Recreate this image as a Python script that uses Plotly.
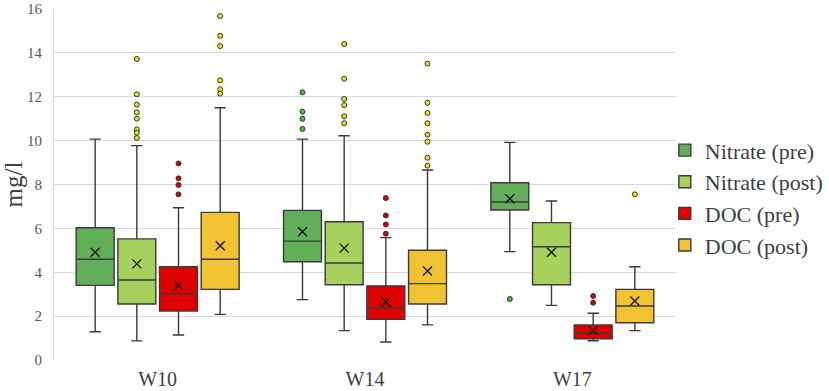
import plotly.graph_objects as go

categories = ["W10", "W14", "W17"]
series = ["Nitrate (pre)", "Nitrate (post)", "DOC (pre)", "DOC (post)"]

# statistics per series, one value per category (W10, W14, W17)
lowerfence = {
    "Nitrate (pre)": [1.29, 2.75, 4.94],
    "Nitrate (post)": [0.87, 1.34, 2.49],
    "DOC (pre)": [1.14, 0.82, 0.88],
    "DOC (post)": [2.08, 1.60, 1.34],
}
q1 = {
    "Nitrate (pre)": [3.40, 4.48, 6.84],
    "Nitrate (post)": [2.55, 3.43, 3.43],
    "DOC (pre)": [2.23, 1.85, 0.97],
    "DOC (post)": [3.22, 2.55, 1.70],
}
median = {
    "Nitrate (pre)": [4.59, 5.42, 7.20],
    "Nitrate (post)": [3.65, 4.42, 5.16],
    "DOC (pre)": [3.01, 2.38, 1.22],
    "DOC (post)": [4.59, 3.48, 2.46],
}
q3 = {
    "Nitrate (pre)": [6.03, 6.82, 8.08],
    "Nitrate (post)": [5.52, 6.30, 6.26],
    "DOC (pre)": [4.25, 3.37, 1.60],
    "DOC (post)": [6.73, 5.00, 3.22],
}
upperfence = {
    "Nitrate (pre)": [10.07, 10.07, 9.92],
    "Nitrate (post)": [9.77, 10.22, 7.25],
    "DOC (pre)": [6.94, 5.58, 2.13],
    "DOC (post)": [11.50, 8.66, 4.25],
}
mean = {
    "Nitrate (pre)": [4.91, 5.85, 7.35],
    "Nitrate (post)": [4.38, 5.10, 4.91],
    "DOC (pre)": [3.39, 2.64, 1.34],
    "DOC (post)": [5.21, 4.06, 2.69],
}
outliers = {
    "Nitrate (pre)": [[], [12.20, 11.32, 11.00, 10.53], [2.78]],
    "Nitrate (post)": [[13.72, 12.11, 11.64, 11.29, 11.00, 10.51, 10.36, 10.12],
                       [14.40, 12.82, 11.90, 11.62, 11.11, 10.79], []],
    "DOC (pre)": [[8.96, 8.28, 7.98, 7.55], [7.38, 6.59, 6.18, 5.76], [2.92, 2.61]],
    "DOC (post)": [[15.68, 14.78, 14.31, 12.75, 12.34, 12.14],
                   [13.51, 11.73, 11.26, 10.79, 10.27, 9.95, 9.22, 8.86], [7.55]],
}

box_colors = ["#63AF59", "#A6D15E", "#DF0000", "#F1C232"]
outlier_colors = ["#2ECC2E", "#CCEE22", "#DD0000", "#FFDD00"]

step = 0.201
box_w = 0.183
offsets = [-1.5 * step, -0.5 * step, 0.5 * step, 1.5 * step]

fig = go.Figure()
for s_i, name in enumerate(series):
    xs = [c_i + offsets[s_i] for c_i in range(len(categories))]
    fig.add_trace(go.Box(
        name=name,
        x=xs,
        q1=q1[name], median=median[name], q3=q3[name],
        lowerfence=lowerfence[name], upperfence=upperfence[name],
        width=box_w, whiskerwidth=0.3,
        fillcolor=box_colors[s_i],
        line=dict(color="#3A3A3A", width=1.4),
        boxpoints=False,
        hoverinfo="skip",
        showlegend=True,
    ))
    # means as x markers
    fig.add_trace(go.Scatter(
        x=xs, y=mean[name], mode="markers",
        marker=dict(symbol="x-thin-open", size=9, color="#111111",
                    line=dict(color="#111111", width=1.3)),
        showlegend=False, hoverinfo="skip",
    ))
    ox, oy = [], []
    for c_i, vals in enumerate(outliers[name]):
        for v in vals:
            ox.append(c_i + offsets[s_i])
            oy.append(v)
    fig.add_trace(go.Scatter(
        x=ox, y=oy, mode="markers",
        marker=dict(symbol="circle", size=5, color=outlier_colors[s_i],
                    line=dict(color="#333333", width=1)),
        showlegend=False, hoverinfo="skip",
    ))

font_family = "Liberation Serif, serif"
fig.update_layout(
    width=829, height=391,
    margin=dict(l=54, r=153, t=9, b=31, autoexpand=False),
    paper_bgcolor="white", plot_bgcolor="white",
    font=dict(family=font_family, color="#404040"),
    showlegend=True,
    legend=dict(
        x=0.982, xanchor="left", y=0.462, yanchor="middle",
        bgcolor="rgba(0,0,0,0)",
        font=dict(family=font_family, size=22, color="#404040"),
        itemwidth=30, tracegroupgap=0,
    ),
    xaxis=dict(
        range=[-0.5, 2.5], automargin=False,
        tickvals=list(range(len(categories))), ticktext=categories,
        showgrid=False, zeroline=False, showline=False,
        ticks="", ticklabelstandoff=5,
        tickfont=dict(family=font_family, size=20, color="#404040"),
        fixedrange=True,
    ),
    yaxis=dict(
        range=[0, 16], dtick=2, automargin=False,
        showgrid=True, gridcolor="#D9D9D9", gridwidth=1,
        zeroline=False, showline=True, linecolor="#D9D9D9", linewidth=1,
        ticks="", ticklabelstandoff=8,
        tickfont=dict(family=font_family, size=15, color="#595959"),
        title=dict(text="mg/l", font=dict(family=font_family, size=25, color="#404040"), standoff=6),
        fixedrange=True,
    ),
)

fig.write_html("out.html", config={"displayModeBar": False},
               post_script="document.body.style.margin='0';document.body.style.overflow='hidden';")
